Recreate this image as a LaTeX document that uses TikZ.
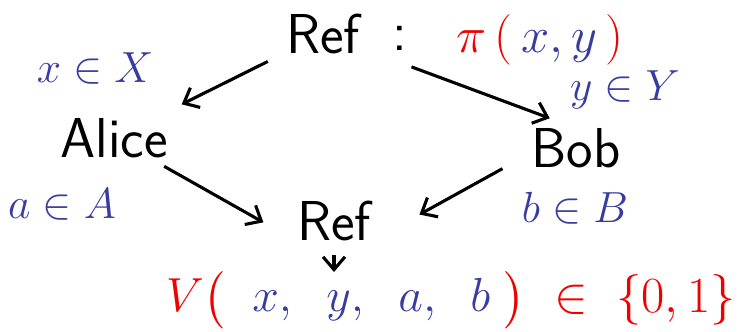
\RequirePackage{fix-cm}
\documentclass[tikz,border=0pt]{standalone}
\usepackage{amsmath,amssymb}
\usetikzlibrary{arrows.meta}
\definecolor{inkblue}{RGB}{55,60,160}
\definecolor{inkred}{RGB}{240,0,0}
\newcommand{\bv}[1]{\textcolor{inkblue}{#1}}

\begin{document}
\begin{tikzpicture}[
  x=0.025cm,y=-0.025cm,
  party/.style={inner sep=0pt,font=\sffamily\fontsize{40}{44}\selectfont},
  varset/.style={inner sep=0pt,text=inkblue,font=\fontsize{31}{35}\selectfont},
  pred/.style={inner sep=0pt,text=inkred,font=\fontsize{36}{40}\selectfont},
  arr/.style={-{Straight Barb[length=3.2mm,width=5.5mm]},line width=2.2pt}
]
\useasboundingbox (0,0) rectangle (746,331);

\node[party] (refTop) at (323,34) {Ref};
\node[party] (colon) at (400,38) {:};
\node[pred] (piXY) at (540,40) {$\pi\,(\,\bv{x,y}\,)$};

\node[varset] (xSet) at (95,68) {$x\in X$};
\node[party] (alice) at (114,138) {Alice};
\node[varset] (ySet) at (625,90) {$y\in Y$};
\node[party] (bob) at (576,148) {Bob};

\node[varset] (aSet) at (62,204) {$a\in A$};
\node[party] (refMid) at (334,221) {Ref};
\node[varset] (bSet) at (575,208) {$b\in B$};

\node[pred,font=\fontsize{34}{38}\selectfont] (vFun) at (346,300)
  {$V\bigl(\;\;\bv{x,\;\;y,\;\;a,\;\;b}\;\bigr)$};
\node[pred] (range) at (645,300) {$\in\;\{0,1\}$};

\draw[arr,shorten <=1.54cm,shorten >=1.89cm] (refTop.center) -- (alice.center);
\draw[arr,shorten <=2.36cm,shorten >=0.7cm] (refTop.center) -- (bob.north);
\draw[arr,shorten <=1.44cm,shorten >=0.96cm] (alice.center) -- (refMid.south west);
\draw[arr,shorten <=2.1cm,shorten >=1.38cm] (bob.north) -- (refMid.south east);
\draw[arr,shorten <=0.85cm,shorten >=0.7cm] (refMid.center) -- (refMid.center |- vFun.center);

\end{tikzpicture}
\end{document}
